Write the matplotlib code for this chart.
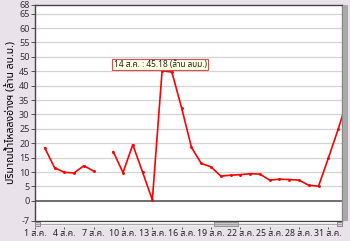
import numpy as np
import matplotlib.pyplot as plt
from matplotlib.patches import Rectangle
from matplotlib.lines import Line2D

days = [2, 3, 4, 5, 6, 7, 8, 9, 10, 11, 12, 13, 14, 15, 16, 17,
        18, 19, 20, 21, 22, 23, 24, 25, 26, 27, 28, 29, 30, 31, 32, 33]
inflow = [18.4, 11.5, 9.9, 9.7, 12.2, 10.3, np.nan, 17.1, 9.8, 19.5, 10.0, 0.3,
          45.18, 44.7, 32.2, 18.6, 13.0, 11.8, 8.6, 8.9, 9.1, 9.4, 9.3, 7.2,
          7.5, 7.4, 7.2, 5.4, 5.1, 14.8, 24.8, 35.5]
tick_days = [1, 4, 7, 10, 13, 16, 19, 22, 25, 28, 31]
tick_labels = ['%d ส.ค.' % d for d in tick_days]
yticks = [-7, 0, 5, 10, 15, 20, 25, 30, 35, 40, 45, 50, 55, 60, 65, 68]

plt.rcParams['font.family'] = ['Noto Sans Thai UI', 'Noto Sans Thai', 'DejaVu Sans']

bg = '#eae2ea'
fig = plt.figure(figsize=(3.5, 2.41), dpi=100, facecolor=bg)
ax = fig.add_axes([35/350, 20/241, 307/350, 216/241])
ax.set_facecolor('white')

# bottom ticks sit below the scrollbar (set before labels: it resets ticks)
ax.spines['bottom'].set_position(('outward', 4))
ax.spines['bottom'].set_visible(False)

ax.plot(days, inflow, color='#ff0000', lw=1.2, marker='.', ms=2.2)

ax.set_xlim(1, 32.4)
ax.set_ylim(-7, 68)
ax.set_yticks(yticks)
ax.set_yticklabels([str(v) for v in yticks])
ax.set_xticks(tick_days)
ax.set_xticklabels(tick_labels)
for v in yticks[2:-1]:
    ax.axhline(v, color='#d4d4d4', lw=0.9, zorder=0)
ax.axhline(0, color='#555555', lw=1.2, zorder=1)

ax.tick_params(axis='y', length=3, width=0.7, color='#555555', pad=1,
               labelsize=6.5, labelcolor='#333333')
ax.tick_params(axis='x', length=1.5, width=0.7, color='#555555', pad=0.3,
               labelsize=6.3, labelcolor='#222222')
for s in ['top', 'left']:
    ax.spines[s].set_color('#444444')
    ax.spines[s].set_linewidth(1.0)
ax.spines['right'].set_color('#888888')
ax.spines['right'].set_linewidth(1.0)
ax.add_line(Line2D([0, 1], [0, 0], transform=ax.transAxes, color='#444444',
                   lw=1.0, clip_on=False))

ax.set_ylabel('ปริมาณน้ำไหลลงอ่างฯ (ล้าน ลบ.ม.)', fontsize=7.5,
              fontweight='bold', labelpad=1)

# scrollbar under plot
sb = fig.transFigure
def px(x, y, w, h, **kw):
    fig.patches.append(Rectangle((x/350, (241-y-h)/241), w/350, h/241,
                                 transform=sb, **kw))
px(35, 222, 307, 4, facecolor='#f0f0f0', edgecolor='none')
fig.lines.append(Line2D([35/350, 342/350], [(241-224)/241]*2, transform=sb,
                        color='#999999', lw=0.6))
px(35, 222, 5, 4, facecolor='#d8d8d8', edgecolor='#666666', lw=0.5)
px(337, 222, 5, 4, facecolor='#d8d8d8', edgecolor='#666666', lw=0.5)
px(214, 222, 24, 4, facecolor='#c8c8c8', edgecolor='#888888', lw=0.6)
# vertical bar at right
px(343, 5, 5, 216, facecolor='#a8a8a8', edgecolor='none')

ax.annotate('14 ส.ค. : 45.18 (ล้าน ลบม.)', xy=(14, 45.18), xytext=(9.05, 47.3),
            fontsize=6, ha='left', va='center', color='#222222',
            bbox=dict(boxstyle='square,pad=0.15', fc='#ffffe6', ec='#d05050', lw=0.8))

fig.savefig('out.png', dpi=100, facecolor=bg)
